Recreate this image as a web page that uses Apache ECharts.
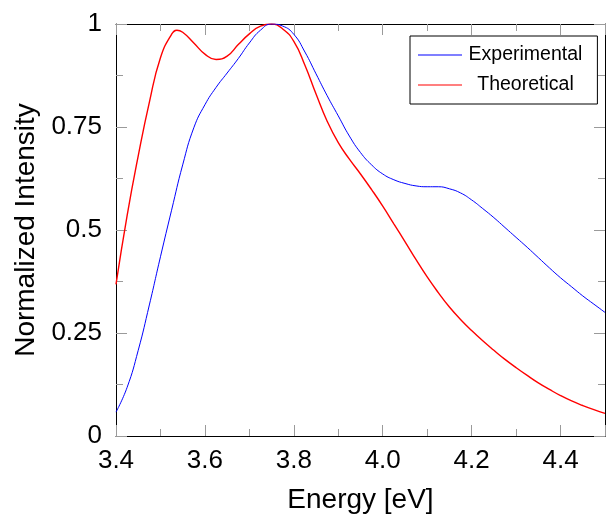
<!DOCTYPE html>
<html>
<head>
<meta charset="utf-8">
<script src="https://cdn.jsdelivr.net/npm/echarts@6/dist/echarts.min.js"></script>
<style>
html,body{margin:0;padding:0;background:#fff;}
#chart{width:608px;height:519px;}
</style>
</head>
<body>
<div id="chart"></div>
<script>
// ---- Data ----
const energyExp = [3.400,3.425,3.450,3.475,3.500,3.525,3.550,3.575,3.600,3.625,3.650,3.675,3.700,3.725,3.750,3.775,3.800,3.825,3.850,3.875,3.900,3.925,3.950,3.975,4.000,4.025,4.050,4.075,4.100,4.125,4.150,4.175,4.200,4.225,4.250,4.275,4.300,4.325,4.350,4.375,4.400,4.425,4.450,4.475,4.500];
const intensityExp = [0.058,0.118,0.208,0.318,0.435,0.548,0.658,0.748,0.804,0.846,0.881,0.916,0.954,0.985,1.000,0.995,0.975,0.932,0.879,0.826,0.777,0.728,0.688,0.658,0.636,0.622,0.613,0.607,0.605,0.605,0.600,0.590,0.573,0.552,0.530,0.506,0.482,0.458,0.433,0.408,0.384,0.362,0.340,0.320,0.300];

const energyTheo = [3.400,3.425,3.450,3.475,3.500,3.525,3.537,3.550,3.575,3.600,3.625,3.650,3.675,3.700,3.725,3.750,3.775,3.800,3.825,3.850,3.875,3.900,3.925,3.950,3.975,4.000,4.025,4.050,4.075,4.100,4.125,4.150,4.175,4.200,4.225,4.250,4.275,4.300,4.325,4.350,4.375,4.400,4.425,4.450,4.475,4.500];
const intensityTheo = [0.368,0.535,0.680,0.810,0.918,0.975,0.985,0.980,0.954,0.927,0.914,0.922,0.950,0.976,0.995,1.000,0.988,0.958,0.900,0.830,0.764,0.712,0.672,0.636,0.598,0.558,0.515,0.472,0.428,0.386,0.348,0.313,0.283,0.256,0.231,0.208,0.186,0.166,0.147,0.129,0.113,0.098,0.085,0.074,0.064,0.055];

const seriesNames = ['Experimental', 'Theoretical'];
const xTitle = 'Energy [eV]';
const yTitle = 'Normalized Intensity';
const xTickLabels = ['3.4','3.6','3.8','4.0','4.2','4.4'];
const yTickLabels = ['0','0.25','0.5','0.75','1'];

// ---- Chart ----
const FONT = 'Liberation Sans';
const TICK = '#9a9a9a';
const chart = echarts.init(document.getElementById('chart'), null, {renderer: 'canvas'});

function pairs(xs, ys) { return xs.map((x, i) => [x, ys[i]]); }

function xLabel(v) {
  const s = v.toFixed(1);
  return xTickLabels.indexOf(s) >= 0 ? s : '';
}
function yLabel(v) {
  const s = String(+v.toFixed(3));
  return yTickLabels.indexOf(s) >= 0 ? s : '';
}

const xBase = {type: 'value', min: 3.4, max: 4.5, splitLine: {show: false}};
const yBase = {type: 'value', min: 0, max: 1, splitLine: {show: false}};

function tickAxis(base, position, interval, len, withLine) {
  return Object.assign({}, base, {
    position: position, interval: interval,
    axisLine: {show: withLine, onZero: false, lineStyle: {color: '#000', width: 1}},
    axisTick: {show: true, inside: true, length: len, lineStyle: {color: TICK, width: 1}},
    axisLabel: {show: false}
  });
}

const option = {
  animation: false,
  backgroundColor: '#fff',
  grid: {left: 116, right: 0, top: 24, bottom: 82, containLabel: false},
  xAxis: [
    Object.assign({}, xBase, {
      position: 'bottom', interval: 0.2,
      axisLine: {show: true, onZero: false, lineStyle: {color: '#000', width: 1}},
      axisTick: {show: true, inside: true, length: 11, lineStyle: {color: TICK, width: 1}},
      axisLabel: {show: true, formatter: xLabel, fontFamily: FONT, fontSize: 26, color: '#000', margin: 12, showMaxLabel: true},
      name: xTitle, nameLocation: 'middle', nameGap: 50,
      nameTextStyle: {fontFamily: FONT, fontSize: 28, color: '#000'}
    }),
    tickAxis(xBase, 'bottom', 0.1, 7, false),
    tickAxis(xBase, 'top', 0.2, 11, true),
    tickAxis(xBase, 'top', 0.1, 7, false)
  ],
  yAxis: [
    Object.assign({}, yBase, {
      position: 'left', interval: 0.25,
      axisLine: {show: true, onZero: false, lineStyle: {color: '#000', width: 1}},
      axisTick: {show: true, inside: true, length: 11, lineStyle: {color: TICK, width: 1}},
      axisLabel: {show: true, formatter: yLabel, fontFamily: FONT, fontSize: 26, color: '#000', margin: 14},
      name: yTitle, nameLocation: 'middle', nameGap: 76,
      nameTextStyle: {fontFamily: FONT, fontSize: 28, color: '#000'}
    }),
    tickAxis(yBase, 'left', 0.125, 7, false),
    tickAxis(yBase, 'right', 0.25, 11, true),
    tickAxis(yBase, 'right', 0.125, 7, false)
  ],
  legend: {
    orient: 'vertical',
    left: 410, top: 36,
    padding: [9, 15, 9, 8],
    itemWidth: 44, itemHeight: 1.2, itemGap: 10,
    icon: 'rect',
    backgroundColor: '#fff',
    borderColor: '#000', borderWidth: 1, borderRadius: 0,
    selectedMode: false,
    data: seriesNames,
    formatter: name => '{t|' + name + '}',
    textStyle: {
      fontFamily: FONT, color: '#000',
      rich: {t: {width: 117, align: 'center', fontFamily: FONT, fontSize: 19.5, color: '#000'}}
    }
  },
  series: [
    {
      name: seriesNames[0], type: 'line', xAxisIndex: 0, yAxisIndex: 0,
      data: pairs(energyExp, intensityExp),
      smooth: 0.5, symbol: 'none', showSymbol: false,
      lineStyle: {color: '#0000ff', width: 1}, itemStyle: {color: '#0000ff'},
      z: 3
    },
    {
      name: seriesNames[1], type: 'line', xAxisIndex: 0, yAxisIndex: 0,
      data: pairs(energyTheo, intensityTheo),
      smooth: 0.5, symbol: 'none', showSymbol: false,
      lineStyle: {color: '#ff0000', width: 1.4}, itemStyle: {color: '#ff0000'},
      z: 2
    }
  ]
};
chart.setOption(option);
</script>
</body>
</html>
